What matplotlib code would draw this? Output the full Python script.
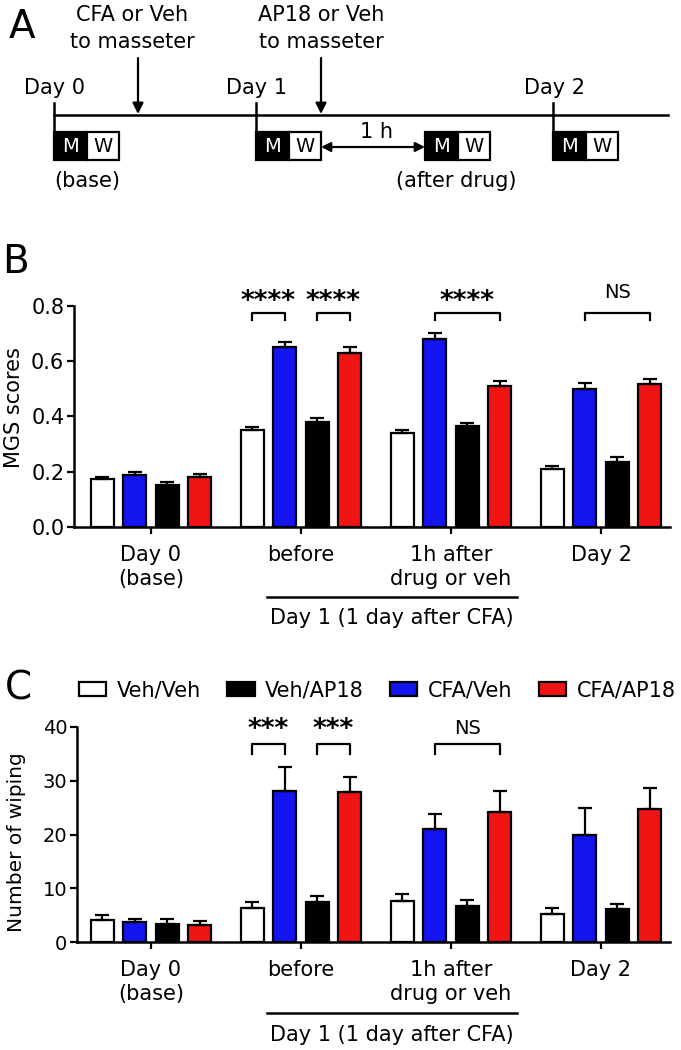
import numpy as np
import matplotlib
matplotlib.use('Agg')
import matplotlib.pyplot as plt
from matplotlib.patches import Rectangle, Patch
from matplotlib import transforms

plt.rcParams['font.family'] = ['DejaVu Sans']

# ---- data ----
group_labels = ['Day 0\n(base)', 'before', '1h after\ndrug or veh', 'Day 2']
bar_order = ['Veh/Veh', 'CFA/Veh', 'Veh/AP18', 'CFA/AP18']
legend_order = ['Veh/Veh', 'Veh/AP18', 'CFA/Veh', 'CFA/AP18']
colors = {'Veh/Veh': 'white', 'Veh/AP18': 'black',
          'CFA/Veh': '#1414f0', 'CFA/AP18': '#f01414'}

# MGS scores (panel B)
mgs_vehveh = [0.174, 0.350, 0.340, 0.210]
mgs_cfaveh = [0.188, 0.650, 0.680, 0.500]
mgs_vehap18 = [0.152, 0.380, 0.365, 0.235]
mgs_cfaap18 = [0.181, 0.630, 0.510, 0.518]
mgs_err_vehveh = [0.008, 0.012, 0.012, 0.010]
mgs_err_cfaveh = [0.012, 0.020, 0.022, 0.020]
mgs_err_vehap18 = [0.010, 0.015, 0.012, 0.020]
mgs_err_cfaap18 = [0.010, 0.020, 0.018, 0.018]

# number of wiping (panel C)
wipe_vehveh = [4.1, 6.4, 7.7, 5.3]
wipe_cfaveh = [3.7, 28.1, 21.0, 19.9]
wipe_vehap18 = [3.4, 7.4, 6.7, 6.1]
wipe_cfaap18 = [3.2, 27.9, 24.1, 24.7]
wipe_err_vehveh = [0.9, 1.0, 1.3, 1.0]
wipe_err_cfaveh = [0.6, 4.5, 2.8, 5.1]
wipe_err_vehap18 = [0.8, 1.2, 1.1, 0.9]
wipe_err_cfaap18 = [0.7, 2.8, 4.0, 3.9]

# significance: (group, first bar, second bar, label)
sig_b = [(1, 0, 1, '****'), (1, 2, 3, '****'), (2, 1, 3, '****'), (3, 1, 3, 'NS')]
sig_c = [(1, 0, 1, '***'), (1, 2, 3, '***'), (2, 1, 3, 'NS')]

mgs = {'Veh/Veh': (mgs_vehveh, mgs_err_vehveh), 'CFA/Veh': (mgs_cfaveh, mgs_err_cfaveh),
       'Veh/AP18': (mgs_vehap18, mgs_err_vehap18), 'CFA/AP18': (mgs_cfaap18, mgs_err_cfaap18)}
wipe = {'Veh/Veh': (wipe_vehveh, wipe_err_vehveh), 'CFA/Veh': (wipe_cfaveh, wipe_err_cfaveh),
        'Veh/AP18': (wipe_vehap18, wipe_err_vehap18), 'CFA/AP18': (wipe_cfaap18, wipe_err_cfaap18)}

W, H = 681, 1050
fig = plt.figure(figsize=(W / 100, H / 100), dpi=100)

# overlay in pixel coordinates for panel A and free text
ov = fig.add_axes([0, 0, 1, 1], zorder=0)
ov.set_xlim(0, W)
ov.set_ylim(H, 0)
ov.axis('off')

pitch = 0.2167
bw = 0.153
offsets = (np.arange(4) - 1.5) * pitch


def bar_panel(rect, data, ylim, yticks, ytl, ylabel, ylab_fs, tick_fs, xlim, sig, brk, sig_y, ns_y):
    ax = fig.add_axes(rect, zorder=2)
    ax.patch.set_alpha(0)
    x = np.arange(len(group_labels))
    for i, name in enumerate(bar_order):
        m, e = data[name]
        ax.bar(x + offsets[i], m, bw, color=colors[name], edgecolor='black', lw=1.6, zorder=2)
        ax.errorbar(x + offsets[i], m, yerr=[np.zeros(len(m)), e], fmt='none',
                    ecolor='black', elinewidth=1.6, capsize=5, capthick=1.6, zorder=3)
    for g, a, b, lab in sig:
        x0, x1 = g + offsets[a], g + offsets[b]
        ax.plot([x0, x0, x1, x1], [brk[1], brk[0], brk[0], brk[1]], color='black', lw=1.6,
                clip_on=False)
        if lab == 'NS':
            ax.text((x0 + x1) / 2, ns_y, lab, ha='center', va='center', fontsize=14)
        else:
            ax.text((x0 + x1) / 2, sig_y, lab, ha='center', va='center', fontsize=19,
                    fontweight='bold')
    ax.set_xlim(*xlim)
    ax.set_ylim(*ylim)
    ax.set_yticks(yticks)
    ax.set_yticklabels(ytl, fontsize=tick_fs)
    ax.set_xticks(x)
    ax.set_xticklabels(group_labels, fontsize=15, linespacing=1.25)
    ax.tick_params(axis='both', direction='out', length=5, width=1.6)
    ax.tick_params(axis='y', pad=2)
    ax.tick_params(axis='x', pad=8)
    for s in ['top', 'right']:
        ax.spines[s].set_visible(False)
    for s in ['left', 'bottom']:
        ax.spines[s].set_linewidth(1.8)
    ax.set_ylabel(ylabel, fontsize=ylab_fs)
    return ax


def day1_label(ax, y_line, y_text):
    tr = transforms.blended_transform_factory(ax.transData, ov.transData)
    ov.plot([0.773, 2.44], [y_line, y_line], color='black', lw=1.8, transform=tr, clip_on=False)
    ov.text(1.607, y_text, 'Day 1 (1 day after CFA)', transform=tr, ha='center', va='center',
            fontsize=15)


# ---- panel B ----
ax_b = bar_panel([74 / W, 1 - 527 / H, (670 - 74) / W, 221 / H], mgs, (0, 0.8),
                 [0, 0.2, 0.4, 0.6, 0.8], ['0.0', '0.2', '0.4', '0.6', '0.8'],
                 'MGS scores', 15, 15, ((74 - 151) / 150, (670 - 151) / 150),
                 sig_b, (0.775, 0.75), 0.815, 0.848)
ax_b.yaxis.set_label_coords(-0.084, 0.54)
day1_label(ax_b, 597, 618)

# ---- panel C ----
ax_c = bar_panel([77 / W, 1 - 942 / H, (670 - 77) / W, 215 / H], wipe, (0, 40),
                 [0, 10, 20, 30, 40], ['0', '10', '20', '30', '40'],
                 'Number of wiping', 14.5, 14, ((77 - 151) / 150, (670 - 151) / 150),
                 sig_c, (36.8, 35.0), 39.5, 39.8)
ax_c.yaxis.set_label_coords(-0.086, 0.465)
day1_label(ax_c, 1013, 1035)

handles = [Patch(facecolor=colors[n], edgecolor='black', lw=1.6, label=n) for n in legend_order]
ax_c.legend(handles=handles, ncol=4, loc='center left', bbox_to_anchor=(79 / W, 1 - 690 / H),
            bbox_transform=fig.transFigure, frameon=False, fontsize=15, handlelength=1.3,
            handleheight=0.67, handletextpad=0.5, columnspacing=1.28, borderpad=0,
            borderaxespad=0)

# ---- panel A: timeline ----
day_x = [54, 256, 553]
day_names = ['Day 0', 'Day 1', 'Day 2']
ov.plot([54, 668], [115, 115], color='black', lw=1.8)
for dx, dn in zip(day_x, day_names):
    ov.plot([dx, dx], [103, 130], color='black', lw=1.8)
    ov.text(dx + 1, 88, dn, ha='center', va='center', fontsize=15)

for ax_x, tx, l1, l2 in [(138, 132, 'CFA or Veh', 'to masseter'),
                         (321, 321, 'AP18 or Veh', 'to masseter')]:
    ov.annotate('', xy=(ax_x, 114), xytext=(ax_x, 58),
                arrowprops=dict(arrowstyle='-|>', color='black', lw=1.6, mutation_scale=16,
                                shrinkA=0, shrinkB=0))
    ov.text(tx, 15, l1, ha='center', va='center', fontsize=15)
    ov.text(tx, 42, l2, ha='center', va='center', fontsize=15)

for bx in [54, 256, 425, 553]:
    ov.add_patch(Rectangle((bx, 132), 33, 28, facecolor='black', edgecolor='black', lw=1.6))
    ov.add_patch(Rectangle((bx + 33, 132), 32, 28, facecolor='white', edgecolor='black', lw=1.6))
    ov.text(bx + 16.5, 146.5, 'M', color='white', ha='center', va='center', fontsize=14)
    ov.text(bx + 49, 146.5, 'W', color='black', ha='center', va='center', fontsize=14)

ov.text(87, 181, '(base)', ha='center', va='center', fontsize=15)
ov.text(456, 181, '(after drug)', ha='center', va='center', fontsize=15)
ov.text(377, 132, '1 h', ha='center', va='center', fontsize=15)
ov.annotate('', xy=(425, 147), xytext=(321, 147),
            arrowprops=dict(arrowstyle='<|-|>', color='black', lw=1.6, mutation_scale=14,
                            shrinkA=0, shrinkB=0))

# panel letters
ov.text(22, 27, 'A', ha='center', va='center', fontsize=28)
ov.text(16, 262, 'B', ha='center', va='center', fontsize=28)
ov.text(18, 688, 'C', ha='center', va='center', fontsize=28)

fig.savefig('out.png', dpi=100)
